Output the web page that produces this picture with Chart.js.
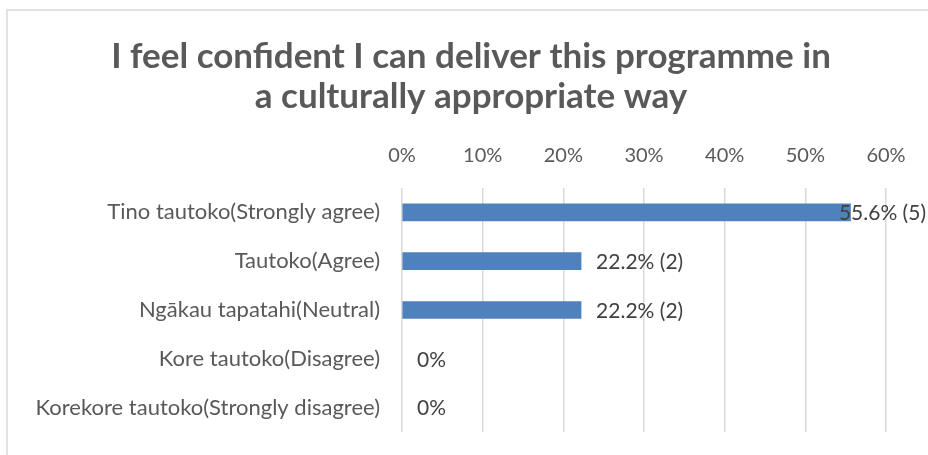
<!DOCTYPE html>
<html>
<head>
<meta charset="utf-8">
<script src="https://cdn.jsdelivr.net/npm/chart.js@4.4.1/dist/chart.umd.min.js"></script>
<style>
  html, body { margin: 0; padding: 0; background: #fff; }
  #wrap { position: relative; width: 928px; height: 455px; }
</style>
</head>
<body>
<div id="wrap">
  <canvas id="chartConfidence" width="928" height="455"></canvas>
</div>
<script>
const categories = [
  'Tino tautoko(Strongly agree)',
  'Tautoko(Agree)',
  'Ngākau tapatahi(Neutral)',
  'Kore tautoko(Disagree)',
  'Korekore tautoko(Strongly disagree)',
];
const percentValues = [55.6, 22.2, 22.2, 0, 0];
const responseCounts = [5, 2, 2, 0, 0];
const tickValues = [0, 10, 20, 30, 40, 50, 60];
const titleLines = [
  'I feel confident I can deliver this programme in',
  'a culturally appropriate way',
];

const FONT = 'Lato, "Open Sans", sans-serif';

// light grey frame round the chart, runs off the right/bottom of the page
const framePlugin = {
  id: 'frame',
  beforeDraw(chart) {
    const ctx = chart.ctx;
    ctx.save();
    ctx.strokeStyle = '#d9d9d9';
    ctx.lineWidth = 1.5;
    ctx.strokeRect(7, 10, 1000, 1000);
    ctx.restore();
  },
};

// two-line bold title, centred on the frame rather than the plot
const titlePlugin = {
  id: 'frameTitle',
  afterDraw(chart) {
    const ctx = chart.ctx;
    ctx.save();
    ctx.font = 'bold 35px ' + FONT;
    ctx.fillStyle = '#595959';
    ctx.textAlign = 'center';
    ctx.textBaseline = 'middle';
    titleLines.forEach((line, i) => {
      ctx.fillText(line, 471, 57 + i * 40);
    });
    ctx.restore();
  },
};

// "55.6% (5)" style labels after each bar end
const valueLabels = {
  id: 'valueLabels',
  afterDatasetsDraw(chart) {
    const ctx = chart.ctx;
    const meta = chart.getDatasetMeta(0);
    ctx.save();
    ctx.font = '21px ' + FONT;
    ctx.fillStyle = '#404040';
    ctx.textBaseline = 'middle';
    ctx.textAlign = 'left';
    meta.data.forEach((bar, i) => {
      const v = percentValues[i];
      const text = v === 0 ? '0%' : v + '% (' + responseCounts[i] + ')';
      const w = ctx.measureText(text).width;
      let x = bar.x + 15;
      if (x + w > 926) x = 926 - w;
      ctx.fillText(text, x, bar.y + 1);
    });
    ctx.restore();
  },
};

const ctx = document.getElementById('chartConfidence').getContext('2d');
const myChart = new Chart(ctx, {
  type: 'bar',
  data: {
    labels: categories,
    datasets: [
      {
        data: percentValues,
        // zero-length bars would leave a hairline, so hide them
        backgroundColor: percentValues.map((v) => (v > 0 ? '#4f81bd' : 'rgba(0,0,0,0)')),
        borderWidth: 0,
        barThickness: 17,
      },
    ],
  },
  options: {
    indexAxis: 'y',
    responsive: false,
    animation: false,
    layout: { padding: { left: 0, right: 42, top: 118, bottom: 23 } },
    plugins: {
      legend: { display: false },
      tooltip: { enabled: false },
      title: { display: false },
    },
    scales: {
      x: {
        position: 'top',
        min: 0,
        max: 60,
        afterBuildTicks(scale) {
          scale.ticks = tickValues.map((v) => ({ value: v }));
        },
        afterFit(scale) {
          scale.height = 70;
        },
        ticks: {
          color: '#595959',
          font: { family: FONT, size: 20 },
          padding: 20,
          callback: (v) => v + '%',
        },
        grid: { color: '#d9d9d9', lineWidth: 1.5, drawTicks: false },
        border: { display: false },
      },
      y: {
        afterFit(scale) {
          scale.width = 402;
          // the tick padding would otherwise be added below the last category
          scale.paddingTop = 0;
          scale.paddingBottom = 0;
        },
        ticks: {
          color: '#595959',
          font: { family: FONT, size: 22 },
          padding: 22,
        },
        grid: { display: false, drawTicks: false },
        border: { display: false },
      },
    },
  },
  plugins: [framePlugin, titlePlugin, valueLabels],
});
</script>
</body>
</html>
